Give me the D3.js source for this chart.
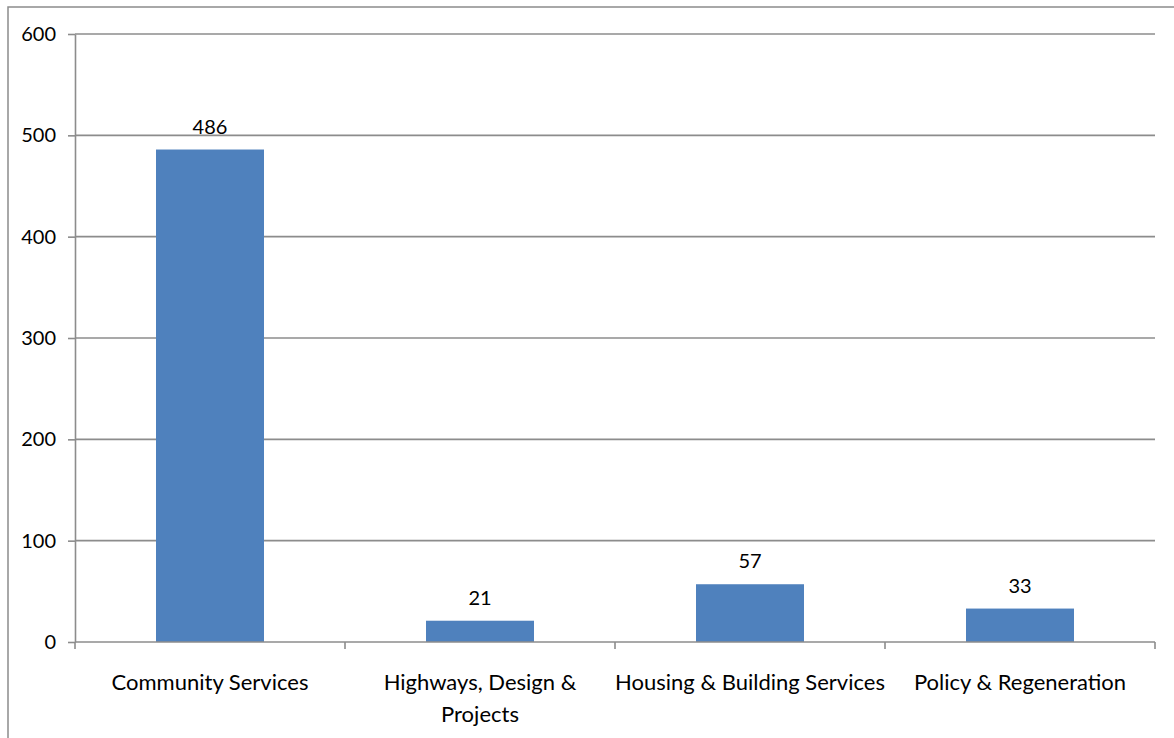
<!DOCTYPE html>
<html>
<head>
<meta charset="utf-8">
<script src="https://cdn.jsdelivr.net/npm/d3@7"></script>
<style>
  html, body { margin: 0; padding: 0; background: #fff; }
  svg { display: block; }
  text { font-family: Lato, "Open Sans", sans-serif; fill: #000; }
</style>
</head>
<body>
<svg id="chart" width="1174" height="738"></svg>
<script>
// Headcount by service area
const categories = ["Community Services", "Highways, Design & Projects", "Housing & Building Services", "Policy & Regeneration"];
const categoryLines = [["Community Services"], ["Highways, Design &", "Projects"], ["Housing & Building Services"], ["Policy & Regeneration"]];
const values = [486, 21, 57, 33];
const yTicks = [0, 100, 200, 300, 400, 500, 600];

const W = 1174, H = 738;
const plot = { left: 75, right: 1155, top: 34, bottom: 642 };
const gridColor = "#8c8c8c";
const barColor = "#4f81bd";

const svg = d3.select("#chart");

// outer chart frame (runs off the right and bottom edges)
svg.append("rect")
  .attr("x", 8).attr("y", 7)
  .attr("width", W + 20).attr("height", H + 20)
  .attr("fill", "#fff")
  .attr("stroke", gridColor).attr("stroke-width", 1.5);

const x = d3.scaleBand().domain(categories).range([plot.left, plot.right]).paddingInner(0).paddingOuter(0);
const y = d3.scaleLinear().domain([0, 600]).range([plot.bottom, plot.top]);

// horizontal gridlines
svg.append("g").selectAll("line").data(yTicks.filter(t => t > 0)).join("line")
  .attr("x1", plot.left).attr("x2", plot.right)
  .attr("y1", d => y(d)).attr("y2", d => y(d))
  .attr("stroke", gridColor).attr("stroke-width", 1.6);

// y axis
const yAxis = svg.append("g").attr("transform", `translate(${plot.left},0)`)
  .call(d3.axisLeft(y).tickValues(yTicks).tickSize(7).tickPadding(12).tickSizeOuter(0));
yAxis.select(".domain").attr("stroke", gridColor).attr("stroke-width", 1.6);
yAxis.selectAll(".tick line").attr("stroke", gridColor).attr("stroke-width", 1.6);
yAxis.selectAll(".tick text").attr("font-size", 20).attr("font-family", "Lato, sans-serif").attr("fill", "#000");

// bars
const barW = x.bandwidth() * 0.4;
svg.append("g").selectAll("rect").data(values).join("rect")
  .attr("x", (d, i) => x(categories[i]) + (x.bandwidth() - barW) / 2)
  .attr("y", d => y(d))
  .attr("width", barW)
  .attr("height", d => y(0) - y(d))
  .attr("fill", barColor);

// value labels
svg.append("g").selectAll("text").data(values).join("text")
  .attr("x", (d, i) => x(categories[i]) + x.bandwidth() / 2)
  .attr("y", d => y(d) - 16)
  .attr("text-anchor", "middle")
  .attr("font-size", 20)
  .text(d => d);

// x axis baseline and category boundary ticks
svg.append("line")
  .attr("x1", plot.left).attr("x2", plot.right)
  .attr("y1", plot.bottom).attr("y2", plot.bottom)
  .attr("stroke", gridColor).attr("stroke-width", 1.6);
const bounds = categories.map(c => x(c)).concat([plot.right]);
svg.append("g").selectAll("line").data(bounds).join("line")
  .attr("x1", d => d).attr("x2", d => d)
  .attr("y1", plot.bottom).attr("y2", plot.bottom + 7)
  .attr("stroke", gridColor).attr("stroke-width", 1.6);

// category labels
const catG = svg.append("g");
categories.forEach((c, i) => {
  const t = catG.append("text")
    .attr("x", x(c) + x.bandwidth() / 2)
    .attr("y", 690)
    .attr("text-anchor", "middle")
    .attr("font-size", 22);
  categoryLines[i].forEach((line, j) => {
    t.append("tspan")
      .attr("x", x(c) + x.bandwidth() / 2)
      .attr("dy", j === 0 ? 0 : 32)
      .text(line);
  });
});
</script>
</body>
</html>
